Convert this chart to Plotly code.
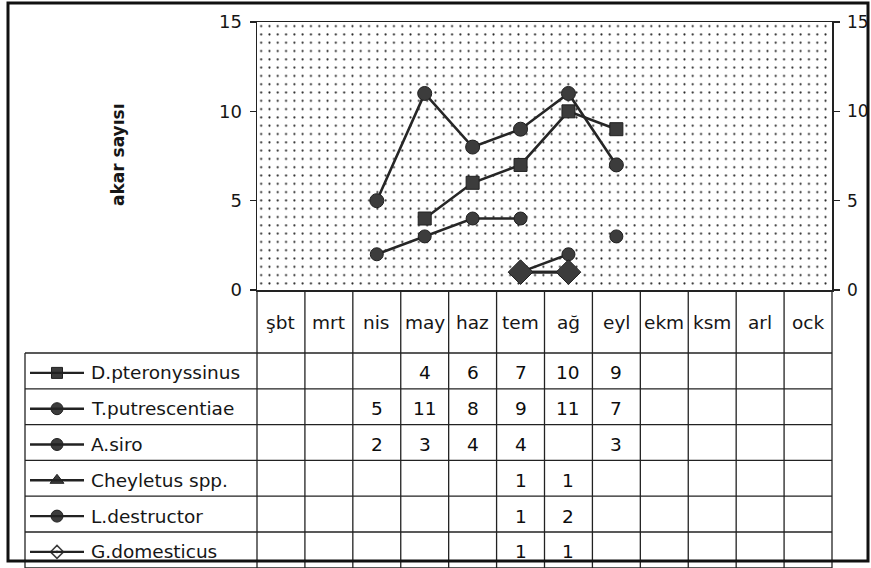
import plotly.graph_objects as go

# ---------------- data ----------------
months = ["şbt", "mrt", "nis", "may", "haz", "tem", "ağ", "eyl", "ekm", "ksm", "arl", "ock"]
series_names = ["D.pteronyssinus", "T.putrescentiae", "A.siro", "Cheyletus spp.", "L.destructor", "G.domesticus"]
d_pteronyssinus = [None, None, None, 4, 6, 7, 10, 9, None, None, None, None]
t_putrescentiae = [None, None, 5, 11, 8, 9, 11, 7, None, None, None, None]
a_siro = [None, None, 2, 3, 4, 4, None, 3, None, None, None, None]
cheyletus = [None, None, None, None, None, 1, 1, None, None, None, None, None]
l_destructor = [None, None, None, None, None, 1, 2, None, None, None, None, None]
g_domesticus = [None, None, None, None, None, 1, 1, None, None, None, None, None]
y_ticks = [0, 5, 10, 15]
y_title = "akar sayısı"

series_values = [d_pteronyssinus, t_putrescentiae, a_siro, cheyletus, l_destructor, g_domesticus]

# ---------------- styles ----------------
W, H = 871, 568
FONT = "DejaVu Sans"
INK = "#161616"
MFILL = "#3c3c3c"
symbols = ["square", "circle", "circle", "triangle-up", "circle", "diamond"]
msizes = [13, 14, 13, 14, 13, 19]
leg_symbols = ["square", "circle", "circle", "triangle-up", "circle", "diamond-open-dot"]
leg_sizes = [11, 12, 12, 12, 12, 10]

PL, PR, PT, PB = 257, 832, 22, 290          # plot area in pixels
LEG_L = 25                                   # table legend column left
HDR_B = 353                                  # header bottom
ROW_H = 35.8
TABLE_B = 568
FRAME = (8, 3, 868, 561)


def X(p):
    return p / W


def Y(p):
    return 1 - p / H


fig = go.Figure()

x_idx = list(range(len(months)))

# dotted background of plot area
fig.add_trace(go.Scatter(
    x=[-0.5, 11.5, 11.5, -0.5, -0.5], y=[0, 0, 15, 15, 0],
    mode="lines", fill="toself", line=dict(width=0),
    fillcolor="white",
    fillpattern=dict(shape=".", size=8.3, solidity=0.05, fgcolor="#222222", bgcolor="white"),
    hoverinfo="skip", showlegend=False, xaxis="x", yaxis="y"))

for name, vals, sym, ms in zip(series_names, series_values, symbols, msizes):
    fig.add_trace(go.Scatter(
        x=x_idx, y=vals, name=name, mode="lines+markers",
        connectgaps=False,
        line=dict(color="#262626", width=2.6),
        marker=dict(symbol=sym, size=ms, color=MFILL, line=dict(color="#202020", width=1)),
        showlegend=False, xaxis="x", yaxis="y"))

# invisible trace to activate right axis
fig.add_trace(go.Scatter(x=[0], y=[0], mode="markers", marker=dict(opacity=0),
                         hoverinfo="skip", showlegend=False, xaxis="x", yaxis="y2"))

shapes = []
annotations = []
line_style = dict(color="#222", width=1.3)

col_w = (PR - PL) / len(months)
# vertical table lines
for k in range(len(months) + 1):
    xp = PL + k * col_w
    shapes.append(dict(type="line", xref="paper", yref="paper", x0=X(xp), x1=X(xp),
                       y0=Y(PB), y1=Y(TABLE_B), line=line_style))
# legend column left line
shapes.append(dict(type="line", xref="paper", yref="paper", x0=X(LEG_L), x1=X(LEG_L),
                   y0=Y(HDR_B), y1=Y(TABLE_B), line=line_style))
# horizontal row lines
for r in range(len(series_names) + 1):
    yp = HDR_B + r * ROW_H
    shapes.append(dict(type="line", xref="paper", yref="paper", x0=X(LEG_L), x1=X(PR),
                       y0=Y(yp), y1=Y(yp), line=line_style))

# month header labels
for k, m in enumerate(months):
    annotations.append(dict(x=X(PL + (k + 0.5) * col_w), y=Y((PB + HDR_B) / 2 + 1),
                            xref="paper", yref="paper", text=m, showarrow=False,
                            font=dict(family=FONT, size=18.5, color=INK),
                            xanchor="center", yanchor="middle"))

# values and legend rows
leg_x, leg_y = [], []
for r, (name, vals) in enumerate(zip(series_names, series_values)):
    yc = HDR_B + (r + 0.5) * ROW_H + 2
    for k, v in enumerate(vals):
        if v is not None:
            annotations.append(dict(x=X(PL + (k + 0.5) * col_w), y=Y(yc),
                                    xref="paper", yref="paper", text=str(v),
                                    showarrow=False, font=dict(family=FONT, size=18.5, color="#0d0d0d"),
                                    xanchor="center", yanchor="middle"))
    annotations.append(dict(x=X(89), y=Y(yc), xref="paper", yref="paper", text=name,
                            showarrow=False, font=dict(family=FONT, size=18.5, color=INK),
                            xanchor="left", yanchor="middle"))
    shapes.append(dict(type="line", xref="paper", yref="paper", x0=X(30), x1=X(84),
                       y0=Y(yc), y1=Y(yc), line=dict(color="#222", width=2.4)))
    leg_x.append(57)
    leg_y.append(yc)

# legend glyph markers on a pixel overlay axis
for i in range(len(series_names)):
    fig.add_trace(go.Scatter(
        x=[leg_x[i]], y=[leg_y[i]], mode="markers",
        marker=dict(symbol=leg_symbols[i], size=leg_sizes[i], color=MFILL,
                    line=dict(color="#202020", width=1.5 if "open" in leg_symbols[i] else 1)),
        hoverinfo="skip", showlegend=False, xaxis="x2", yaxis="y3"))

# y axis title
annotations.append(dict(x=X(118), y=Y(155), xref="paper", yref="paper", text=f"<b>{y_title}</b>",
                        showarrow=False, textangle=-90, font=dict(family=FONT, size=17, color=INK),
                        xanchor="center", yanchor="middle"))

# outer frame
shapes.append(dict(type="rect", xref="paper", yref="paper", x0=X(FRAME[0]), x1=X(FRAME[2]),
                   y0=Y(FRAME[1]), y1=Y(FRAME[3]), line=dict(color="#111", width=3)))

fig.update_layout(
    template="none",
    width=W, height=H,
    margin=dict(l=0, r=0, t=0, b=0, pad=0, autoexpand=False),
    paper_bgcolor="white", plot_bgcolor="rgba(0,0,0,0)",
    showlegend=False,
    xaxis=dict(domain=[X(PL), X(PR)], range=[-0.5, 11.5], showticklabels=False,
               showgrid=False, zeroline=False, showline=True, mirror=True,
               linecolor="#222", linewidth=1.5, ticks="", fixedrange=True, automargin=False),
    yaxis=dict(domain=[Y(PB), Y(PT)], range=[0, 15], tickvals=y_ticks,
               ticks="outside", ticklen=6, tickcolor="#222", tickwidth=1.2,
               showgrid=False, zeroline=False, showline=True, linecolor="#222", linewidth=1.5,
               tickfont=dict(family=FONT, size=18, color=INK), ticklabelstandoff=4, automargin=False),
    yaxis2=dict(overlaying="y", side="right", range=[0, 15], tickvals=y_ticks,
                ticks="outside", ticklen=6, tickcolor="#222", tickwidth=1.2,
                showgrid=False, zeroline=False, showline=True, linecolor="#222", linewidth=1.5,
                tickfont=dict(family=FONT, size=17, color=INK), ticklabelstandoff=4,
                anchor="x", automargin=False),
    xaxis2=dict(domain=[0, 1], range=[0, W], visible=False, anchor="y3", automargin=False),
    yaxis3=dict(domain=[0, 1], range=[H, 0], visible=False, anchor="x2", automargin=False),
    shapes=shapes,
    annotations=annotations,
)

fig.write_html("out.html",
               config={"displayModeBar": False, "staticPlot": True},
               post_script="document.body.style.margin='0';document.body.style.overflow='hidden';")
